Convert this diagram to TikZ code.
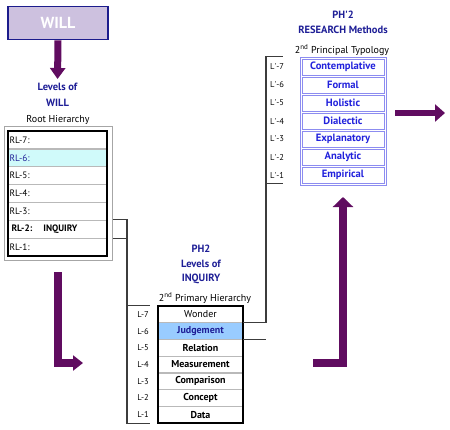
\documentclass[tikz,border=0pt]{standalone}
\usepackage{fontspec}
\setmainfont{PT Sans}
\usetikzlibrary{arrows.meta}
\definecolor{purp}{RGB}{96,12,96}
\definecolor{navy}{RGB}{30,30,150}
\definecolor{willfill}{RGB}{205,193,223}
\definecolor{willedge}{RGB}{28,28,140}
\definecolor{cyanrow}{RGB}{208,250,250}
\definecolor{judg}{RGB}{153,204,255}
\definecolor{methblue}{RGB}{34,34,220}
\definecolor{methedge}{RGB}{140,140,240}
\definecolor{brkcol}{RGB}{60,60,60}
\begin{document}
\begin{tikzpicture}[x=1pt,y=-1pt,
 head/.style={text=navy, font=\fontsize{10.5}{11}\selectfont\bfseries, inner sep=0pt},
 sub/.style={font=\fontsize{10}{11}\selectfont, inner sep=0pt},
 rlrow/.style={draw=gray!55, line width=0.7pt, minimum width=99pt, minimum height=17.857pt, inner sep=0pt, text width=96pt, align=left, font=\fontsize{9.3}{10}\selectfont},
 lrow/.style={draw=gray!55, line width=0.7pt, minimum width=85pt, minimum height=16.714pt, inner sep=0pt, font=\fontsize{10}{11}\selectfont\bfseries},
 mrow/.style={draw=methedge, line width=0.8pt, minimum width=82pt, minimum height=16pt, inner sep=0pt, font=\fontsize{10.6}{11}\selectfont\bfseries, text=methblue},
 llab/.style={font=\fontsize{8.5}{9}\selectfont, inner sep=0pt},
 brk/.style={draw=brkcol, line width=1.1pt},
 fatarrow/.style={draw=purp, line width=#1}
]
\useasboundingbox (0,0) rectangle (450,429);

% ---------- WILL ----------
\node[draw=willedge, line width=1.6pt, fill=willfill, minimum width=100pt, minimum height=33pt, inner sep=0pt,
      text=white, font=\fontsize{16}{17}\selectfont\bfseries] (will) at (58,23) {WILL};
\node[head] (lev1) at (57.5,87) {Levels of};
\node[head] (lev2) at (57.5,103) {WILL};
\node[sub] (rooth) at (58,120) {Root Hierarchy};
\draw[fatarrow=7pt, -{Triangle[width=15pt,length=11pt]}, shorten >=4pt] (will.south) -- (lev1.north);

% ---------- Root hierarchy table ----------
\node[draw=gray!70, line width=0.8pt, minimum width=108pt, minimum height=134pt, inner sep=0pt] (rlouter) at (58,193) {};
\node[rlrow] (rl7) at (57.5,139.9) {RL-7:};
\node[rlrow, fill=cyanrow, text=navy] (rl6) at (57.5,157.8) {RL-6:};
\node[rlrow] (rl5) at (57.5,175.6) {RL-5:};
\node[rlrow] (rl4) at (57.5,193.5) {RL-4:};
\node[rlrow] (rl3) at (57.5,211.4) {RL-3:};
\node[rlrow, font=\fontsize{9.3}{10}\selectfont\bfseries] (rl2) at (57.5,229.2) {\hspace*{2pt}RL-2:\hspace{11pt}INQUIRY};
\node[rlrow] (rl1) at (57.5,247.1) {RL-1:};
\node[draw=black, line width=2pt, minimum width=99pt, minimum height=125pt, inner sep=0pt] (rlbox) at (57.5,193.5) {};

% ---------- PH2 Levels of Inquiry ----------
\node[head] (ph2a) at (201,249) {PH2};
\node[head] (ph2b) at (201,264) {Levels of};
\node[head] (ph2c) at (201,279) {INQUIRY};
\node[sub] (ph2d) at (205,298) {2\textsuperscript{nd} Primary Hierarchy};

\node[lrow, font=\fontsize{10}{11}\selectfont] (l7) at (200.5,314.4) {Wonder};
\node[lrow, fill=judg, text=navy] (l6) at (200.5,331.1) {Judgement};
\node[lrow] (l5) at (200.5,347.8) {Relation};
\node[lrow] (l4) at (200.5,364.5) {Measurement};
\node[lrow] (l3) at (200.5,381.2) {Comparison};
\node[lrow] (l2) at (200.5,397.9) {Concept};
\node[lrow] (l1) at (200.5,414.6) {Data};
\node[draw=black, line width=2pt, minimum width=85pt, minimum height=117pt, inner sep=0pt] (lbox) at (200.5,364.5) {};

\foreach \n/\t in {l7/L-7,l6/L-6,l5/L-5,l4/L-4,l3/L-3,l2/L-2,l1/L-1}
  \node[llab] at (143,0 |- \n) {\t};

% ---------- PH'2 Research methods ----------
\node[head] (pm1) at (343,15) {PH\textquotesingle2};
\node[head] (pm2) at (343,30) {RESEARCH Methods};
\node[sub] (pm3) at (342,50) {2\textsuperscript{nd} Principal Typology};

\node[draw=methedge, line width=0.8pt, minimum width=86pt, minimum height=128pt, inner sep=0pt] (meth) at (343,121) {};
\node[mrow] (m7) at (343,67) {Contemplative};
\node[mrow] (m6) at (343,85) {Formal};
\node[mrow] (m5) at (343,103) {Holistic};
\node[mrow] (m4) at (343,121) {Dialectic};
\node[mrow] (m3) at (343,139) {Explanatory};
\node[mrow] (m2) at (343,157) {Analytic};
\node[mrow] (m1) at (343,175) {Empirical};

\foreach \n/\t in {m7/7,m6/6,m5/5,m4/4,m3/3,m2/2,m1/1}
  \node[llab] at (277,0 |- \n) {L\textquotesingle-\t};

% ---------- brackets ----------
\coordinate (bx1) at (127,0);
\coordinate (bx2) at (266,0);
\draw[brk] ([xshift=6pt]rl2.north east) -- (rl2.north east -| bx1) -- (bx1 |- l1.south) -- ([xshift=-8pt]l1.south west);
\draw[brk] ([xshift=6pt]rl2.south east) -- (rl2.south east -| bx1);
\draw[brk] (l7.north west -| bx1) -- ([xshift=-8pt]l7.north west);

\draw[brk] (l6.north east) -- (l6.north east -| bx2) -- (bx2 |- meth.north) -- ([xshift=-17pt]meth.north west);
\draw[brk] (l6.south east) -- (l6.south east -| bx2);
\draw[brk] ([yshift=1.5pt]bx2 |- meth.south) -- ([xshift=-17pt,yshift=1.5pt]meth.south west);

% ---------- fat purple arrows ----------
\coordinate (la1) at (58,272);
\coordinate (la2) at (83,363);
\draw[fatarrow=8pt, -{Triangle[width=15pt,length=10pt]}] (la1) |- (la2);

\coordinate (ua1) at (313,363);
\coordinate (ua2) at (343,197);
\draw[fatarrow=7.5pt, -{Triangle[width=20pt,length=10pt]}] (ua1) -| (ua2);

\coordinate (ra1) at (395,113);
\coordinate (ra2) at (445,113);
\draw[fatarrow=6pt, -{Triangle[width=17pt,length=10pt]}] (ra1) -- (ra2);
\end{tikzpicture}
\end{document}
